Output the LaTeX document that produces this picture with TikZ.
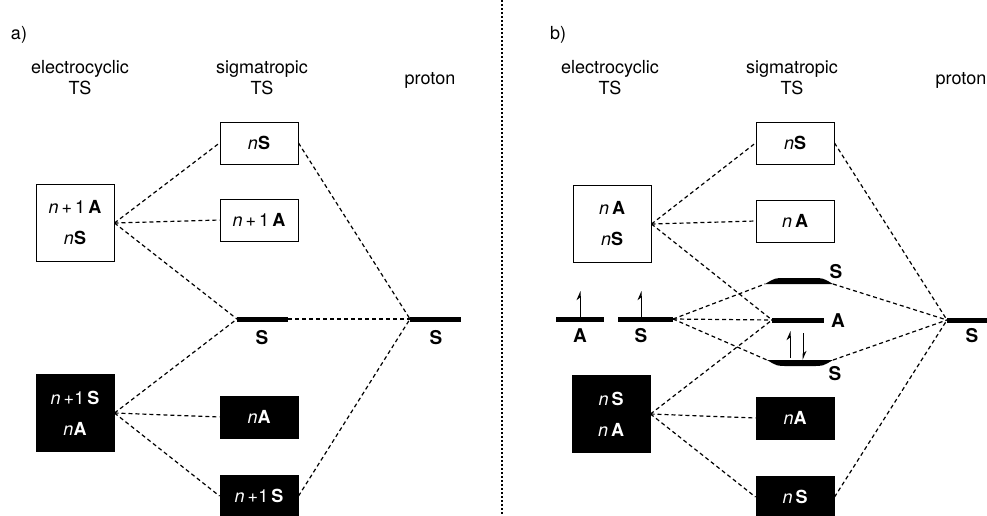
\documentclass[tikz,border=0pt]{standalone}
\usepackage{fontspec}
\setmainfont{TeX Gyre Heros}
\usetikzlibrary{positioning,arrows.meta,calc}
\newcommand\level[4]{\coordinate(#1l) at (#2,#4); \coordinate(#1r) at (#3,#4); \draw[lvl] (#1l) -- (#1r);}
\newcommand\lens[5]{\coordinate(#1l) at (#2,#4); \coordinate(#1r) at (#3,#4);
  \fill (#1l) .. controls ($(#1l)+(10,#5)$) .. ($(#1l)+(20,#5)$) -- ($(#1r)+(-20,#5)$) .. controls ($(#1r)+(-10,#5)$) .. (#1r) -- cycle;}
\tikzset{
  orb/.style={draw,line width=1pt,minimum width=78pt,minimum height=42pt,inner sep=0pt},
  filled/.style={orb,fill=black,text=white},
  tall/.style={minimum height=77pt,align=center},
  lvl/.style={line width=5pt},
  conn/.style={line width=1.2pt,dash pattern=on 4pt off 3pt},
  lab/.style={font=\fontsize{19}{21}\selectfont\bfseries},
  spin/.style={line width=1pt,-{Stealth[left,length=8pt,width=7pt]}},
}

\begin{document}
\begin{tikzpicture}[x=1pt,y=-1pt,font=\fontsize{18}{21}\selectfont]
    \useasboundingbox (0,0) rectangle (987,515);
    % panel a
    \node (alab) at (19,35) {a)};
    \node[align=center] (ahd1) at (80,78) {electrocyclic\\TS};
    \node[align=center] (ahd2) at (262,78) {sigmatropic\\TS};
    \node (ahd3) at (430,80) {proton};

    \node[orb] (anS) at (259,143) {\textit{n}\textbf{S}};
    \node[orb] (anA) at (259,220) {\textit{n}\,+\,1\,\textbf{A}};
    \node[orb,tall] (aE) at (75,223) {\textit{n}\,+\,1\,\textbf{A}\\[10pt]\textit{n}\textbf{S}};
    \node[filled,tall] (aEb) at (75,413) {\textit{n}\,+1\,\textbf{S}\\[10pt]\textit{n}\textbf{A}};
    \node[filled] (anAb) at (259,417) {\textit{n}\textbf{A}};
    \node[filled] (anSb) at (259,496) {\textit{n}\,+1\,\textbf{S}};

    \level{as}{237}{288}{319}
    \node[lab] (asT) at (262,338) {S};
    \level{ap}{410}{461}{319}
    \node[lab] (apT) at (436,338) {S};

    \draw[conn] (aE.east) -- (anS.west);
    \draw[conn] (aE.east) -- (anA.west);
    \draw[conn] (aE.east) -- (asl);
    \draw[conn] (anS.east) -- (apl);
    \draw[conn] (asr) -- (apl);
    \draw[conn] (aEb.east) -- (asl);
    \draw[conn] (aEb.east) -- (anAb.west);
    \draw[conn] (aEb.east) -- (anSb.west);
    \draw[conn] (anSb.east) -- (apl);

    % divider
    \draw[line width=1.2pt,dash pattern=on 2pt off 2pt] (502,0) -- (502,515);

    % panel b
    \node (blab) at (558,35) {b)};
    \node[align=center] (bhd1) at (610,78) {electrocyclic\\TS};
    \node[align=center] (bhd2) at (792,78) {sigmatropic\\TS};
    \node (bhd3) at (961,80) {proton};

    \node[orb] (bnS) at (795,143) {\textit{n}\textbf{S}};
    \node[orb] (bnA) at (795,221) {\textit{n}\,\textbf{A}};
    \node[orb,tall] (bE) at (612,224) {\textit{n}\,\textbf{A}\\[10pt]\textit{n}\textbf{S}};
    \node[filled,tall] (bEb) at (611,414) {\textit{n}\,\textbf{S}\\[10pt]\textit{n}\,\textbf{A}};
    \node[filled] (bnAb) at (795,418) {\textit{n}\textbf{A}};
    \node[filled] (bnSb) at (795,497) {\textit{n}\,\textbf{S}};

    \level{bA}{556}{604}{319}
    \node[lab] (bAT) at (580,336) {A};
    \draw[spin] (580,317) -- (580,291);
    \level{bS}{618}{673}{319}
    \node[lab] (bST) at (641,336) {S};
    \draw[spin] (641,317) -- (641,291);

    \lens{bu}{765}{833}{284}{-6}
    \node[lab] (buT) at (836,272) {S};
    \level{bm}{772}{824}{320}
    \node[lab] (bmT) at (838,321) {A};
    \lens{bd}{767}{833}{360}{6}
    \node[lab] (bdT) at (835,374) {S};
    \draw[spin] (790,358) -- (790,331);
    \draw[spin] (803,333) -- (803,360);

    \level{bp}{947}{995}{320}
    \node[lab] (bpT) at (972,336) {S};

    \draw[conn] (bE.east) -- (bnS.west);
    \draw[conn] (bE.east) -- (bnA.west);
    \draw[conn] (bE.east) -- (bml);
    \draw[conn] (bnS.east) -- (bpl);
    \draw[conn] (bSr) -- (bul);
    \draw[conn] (bSr) -- (bml);
    \draw[conn] (bSr) -- (bdl);
    \draw[conn] (bur) -- (bpl);
    \draw[conn] (bdr) -- (bpl);
    \draw[conn] (bEb.east) -- (bml);
    \draw[conn] (bEb.east) -- (bnAb.west);
    \draw[conn] (bEb.east) -- (bnSb.west);
    \draw[conn] (bnSb.east) -- (bpl);
\end{tikzpicture}
\end{document}
